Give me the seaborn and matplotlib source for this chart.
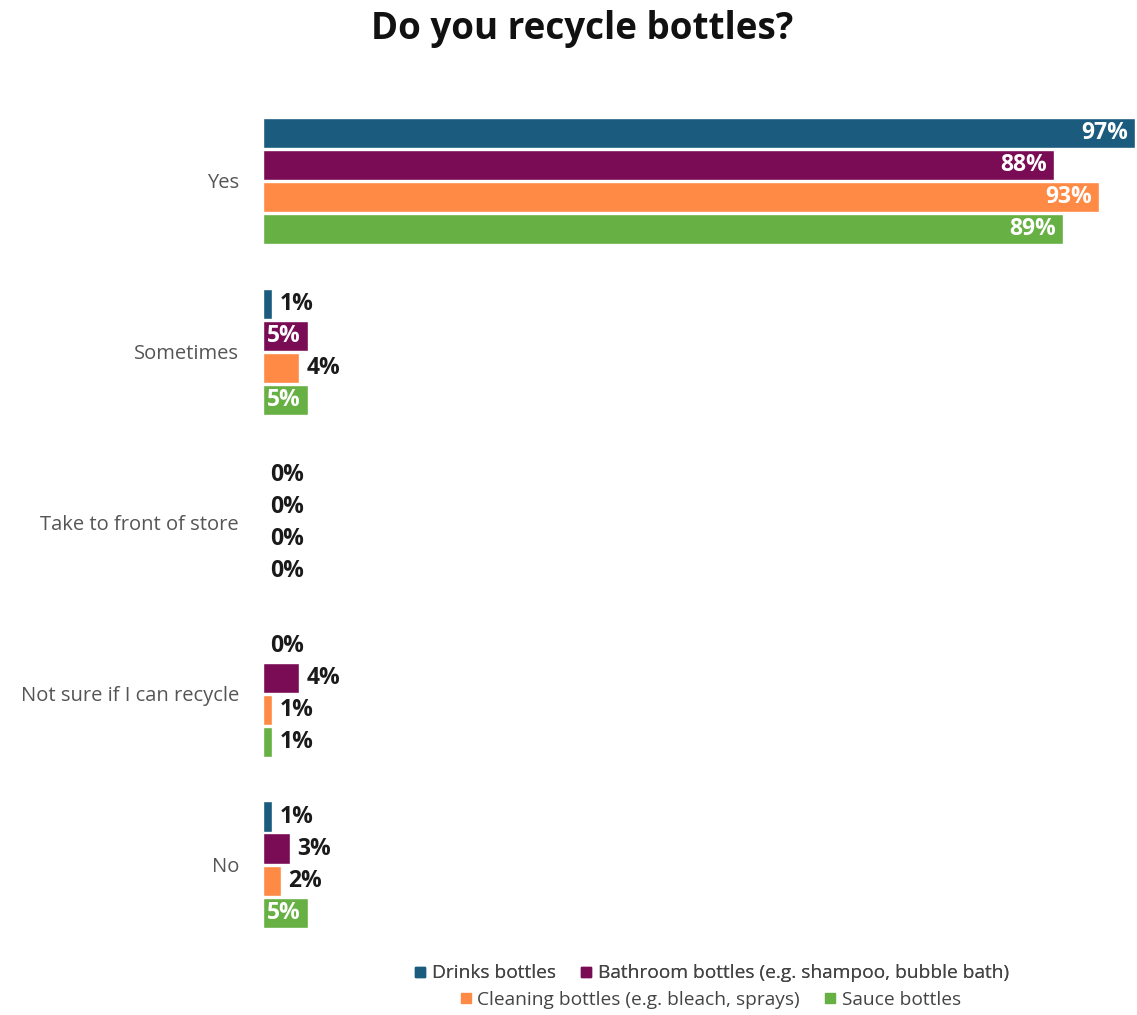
import matplotlib
matplotlib.use("Agg")
import matplotlib.pyplot as plt
import seaborn as sns
import pandas as pd
from matplotlib.lines import Line2D

categories = ["Yes", "Sometimes", "Take to front of store", "Not sure if I can recycle", "No"]
series = ["Drinks bottles", "Bathroom bottles (e.g. shampoo, bubble bath)",
          "Cleaning bottles (e.g. bleach, sprays)", "Sauce bottles"]
drinks = [97, 1, 0, 0, 1]
bathroom = [88, 5, 0, 4, 3]
cleaning = [93, 4, 0, 1, 2]
sauce = [89, 5, 0, 1, 5]
colors = ["#1a5b7e", "#7a0c55", "#ff8a45", "#67b044"]

values = [drinks, bathroom, cleaning, sauce]
rows = []
for s, vals in zip(series, values):
    for c, v in zip(categories, vals):
        rows.append({"category": c, "series": s, "value": v})
df = pd.DataFrame(rows)

sns.set_theme(style="white")
plt.rcParams["font.family"] = ["Open Sans", "DejaVu Sans"]

fig = plt.figure(figsize=(11.37, 10.15), dpi=100)
ax = fig.add_axes([0.231, 0.064, 0.767, 0.842])

sns.barplot(data=df, y="category", x="value", hue="series", order=categories,
            hue_order=series, palette=colors, orient="h", width=0.75, gap=0.06,
            saturation=1, legend=False, ax=ax)

ax.set_xlim(0, 97)
ax.set_xlabel("")
ax.set_ylabel("")
ax.set_xticks([])
sns.despine(ax=ax, left=True, bottom=True)
ax.tick_params(axis="y", length=0, pad=17, labelsize=14.5, labelcolor="#555555")

for container, vals in zip(ax.containers, values):
    for patch, v in zip(container.patches, vals):
        w = patch.get_width()
        yc = patch.get_y() + patch.get_height() / 2
        if v >= 5:
            ax.annotate(f"{v}%", (w, yc), xytext=(-5, 0), textcoords="offset points",
                        ha="right", va="center", color="white", fontsize=16.5,
                        fontweight="bold")
        else:
            ax.annotate(f"{v}%", (w, yc), xytext=(5.5, 0), textcoords="offset points",
                        ha="left", va="center", color="#1a1a1a", fontsize=16.5,
                        fontweight="bold")

fig.suptitle("Do you recycle bottles?", x=0.512, y=0.99, fontsize=26.5,
             fontweight="bold", color="#111111")

def handle(c):
    return Line2D([], [], marker="s", linestyle="", markersize=6.5,
                  markerfacecolor=c, markeredgecolor=c)

leg1 = fig.legend([handle(colors[0]), handle(colors[1])], series[:2], ncol=2,
                  loc="center", bbox_to_anchor=(0.625, 0.041), frameon=False,
                  fontsize=13.8, labelcolor="#444444", handletextpad=0.2,
                  columnspacing=1.2, handlelength=0.8)
leg2 = fig.legend([handle(colors[2]), handle(colors[3])], series[2:], ncol=2,
                  loc="center", bbox_to_anchor=(0.624, 0.015), frameon=False,
                  fontsize=13.8, labelcolor="#444444", handletextpad=0.2,
                  columnspacing=1.2, handlelength=0.8)
fig.add_artist(leg1)

fig.savefig("out.png", dpi=100)
